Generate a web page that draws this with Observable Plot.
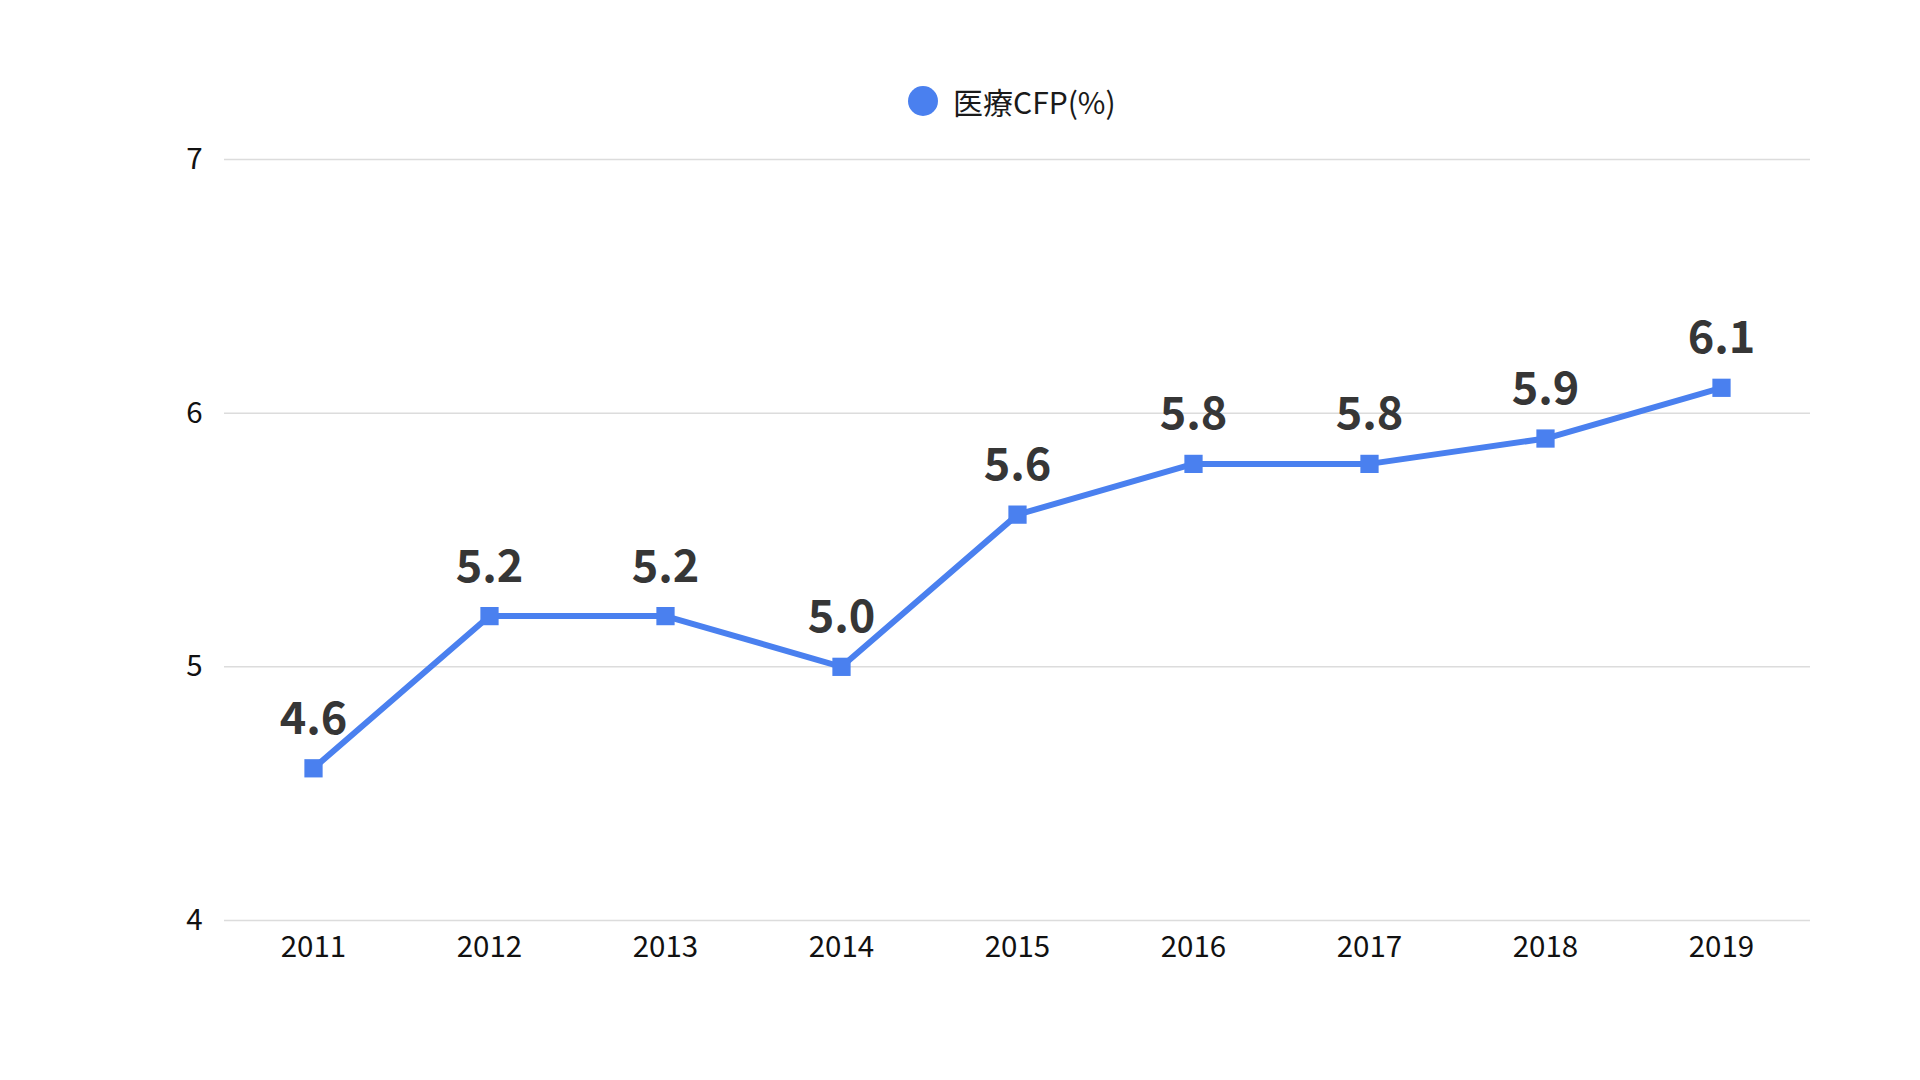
<!DOCTYPE html>
<html>
<head>
<meta charset="utf-8">
<script src="https://cdn.jsdelivr.net/npm/d3@7"></script>
<script src="https://cdn.jsdelivr.net/npm/@observablehq/plot@0.6"></script>
<style>
  html, body { margin: 0; padding: 0; background: #fff; }
  body { width: 1920px; height: 1080px; overflow: hidden; font-family: "Noto Sans CJK JP", "Noto Sans", sans-serif; }
  #legend { position: relative; height: 130px; }
  #legend .item { position: absolute; left: 908px; top: 85px; display: flex; align-items: center; height: 32px; }
  #legend .sw { width: 30px; height: 30px; border-radius: 50%; background: #4a80ef; margin-right: 15px; }
  #legend .lb { font-size: 30px; color: #1a1a1a; line-height: 32px; }
</style>
</head>
<body>
<div id="legend"><div class="item"><span class="sw"></span><span class="lb">医療CFP(%)</span></div></div>
<div id="chart"></div>
<script>
const years = ["2011", "2012", "2013", "2014", "2015", "2016", "2017", "2018", "2019"];
const values = [4.6, 5.2, 5.2, 5.0, 5.6, 5.8, 5.8, 5.9, 6.1];
const valueLabels = ["4.6", "5.2", "5.2", "5.0", "5.6", "5.8", "5.8", "5.9", "6.1"];
const yTicks = [4, 5, 6, 7];

const data = years.map((y, i) => ({year: y, value: values[i], label: valueLabels[i]}));
const color = "#4a80ef";

const chart = Plot.plot({
  width: 1920,
  height: 950,
  marginTop: 29,
  marginBottom: 160,
  marginLeft: 224,
  marginRight: 110,
  style: {fontFamily: '"Noto Sans CJK JP", "Noto Sans", sans-serif', background: "#fff"},
  x: {type: "point", domain: years, padding: 0.5, label: null},
  y: {domain: [4, 7], ticks: yTicks, label: null},
  marks: [
    Plot.gridY(yTicks, {stroke: "#dcdcdc", strokeOpacity: 1, strokeWidth: 1.5}),
    Plot.axisY(yTicks, {tickSize: 0, tickPadding: 22, fontSize: 29.5, fill: "#111", label: null, tickFormat: d3.format("d")}),
    Plot.axisX({tickSize: 0, tickPadding: 16, fontSize: 29.5, fill: "#111", label: null, lineAnchor: "top"}),
    Plot.line(data, {x: "year", y: "value", stroke: color, strokeWidth: 6}),
    Plot.dot(data, {x: "year", y: "value", symbol: "square", r: 10.3, fill: color, stroke: "none"}),
    Plot.text(data, {x: "year", y: "value", text: "label", dy: -49, fontSize: 45, fontWeight: "bold", fill: "#363636", lineAnchor: "middle"})
  ]
});
document.getElementById("chart").appendChild(chart);
</script>
</body>
</html>
